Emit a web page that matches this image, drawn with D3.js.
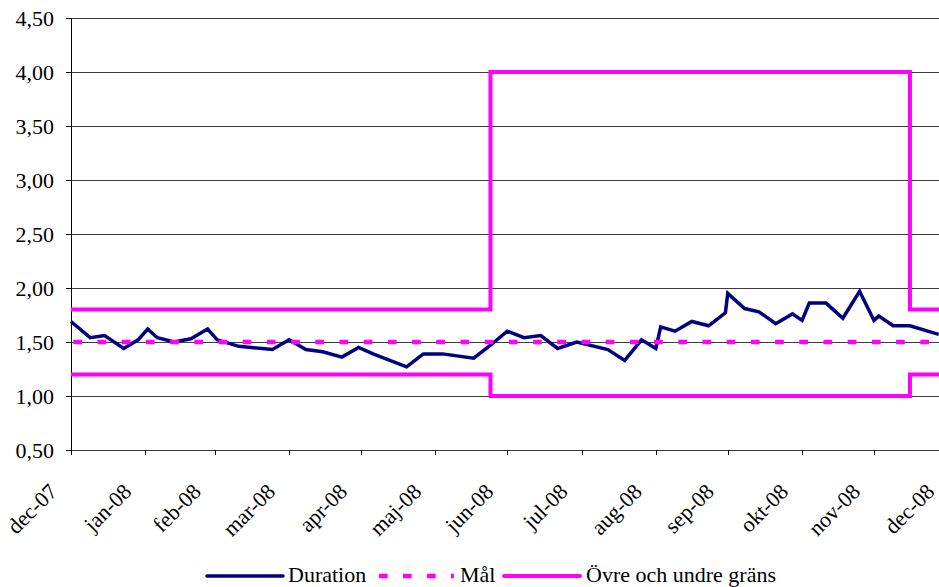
<!DOCTYPE html>
<html>
<head>
<meta charset="utf-8">
<script src="https://cdn.jsdelivr.net/npm/d3@7/dist/d3.min.js"></script>
<style>
  html, body { margin: 0; padding: 0; background: #fff; }
  svg { display: block; }
  svg text { font-family: "Liberation Serif", Tinos, "Times New Roman", Times, "DejaVu Serif", "Noto Serif", serif; fill: #000; }
</style>
</head>
<body>
<svg id="chart" width="939" height="587"></svg>
<script>
// ---- data ----
const durationDates = [
  "2007-12-31","2008-01-08","2008-01-14","2008-01-22","2008-01-28","2008-02-01","2008-02-05",
  "2008-02-12","2008-02-19","2008-02-26","2008-03-01","2008-03-10","2008-03-24","2008-03-31",
  "2008-04-07","2008-04-14","2008-04-22","2008-04-29","2008-05-05","2008-05-19","2008-05-26",
  "2008-06-03","2008-06-16","2008-06-23","2008-06-30","2008-07-07","2008-07-14","2008-07-21",
  "2008-07-29","2008-08-11","2008-08-18","2008-08-25","2008-08-31","2008-09-02","2008-09-08",
  "2008-09-15","2008-09-22","2008-09-29","2008-09-30","2008-10-07","2008-10-13","2008-10-20",
  "2008-10-27","2008-10-31","2008-11-03","2008-11-10","2008-11-17","2008-11-24","2008-11-30",
  "2008-12-02","2008-12-08","2008-12-15","2008-12-27"
];
const durationValues = [
  1.69,1.54,1.56,1.44,1.52,1.62,1.54,
  1.50,1.53,1.62,1.52,1.46,1.43,1.52,
  1.43,1.41,1.36,1.45,1.39,1.27,1.39,
  1.39,1.35,1.47,1.60,1.54,1.56,1.44,
  1.50,1.43,1.33,1.52,1.44,1.64,1.60,
  1.69,1.65,1.77,1.95,1.81,1.78,1.67,
  1.76,1.70,1.86,1.86,1.72,1.97,1.70,
  1.74,1.65,1.65,1.57
];
const malDates = ["2007-12-31","2008-12-31"];
const malValues = [1.5, 1.5];
const upperDates = ["2007-12-31","2008-06-23","2008-06-23","2008-12-15","2008-12-15","2008-12-31"];
const upperValues = [1.8, 1.8, 4.0, 4.0, 1.8, 1.8];
const lowerDates = ["2007-12-31","2008-06-23","2008-06-23","2008-12-15","2008-12-15","2008-12-31"];
const lowerValues = [1.2, 1.2, 1.0, 1.0, 1.2, 1.2];
const monthTickDates = ["2007-12-31","2008-01-31","2008-02-29","2008-03-31","2008-04-30","2008-05-31",
  "2008-06-30","2008-07-31","2008-08-31","2008-09-30","2008-10-31","2008-11-30","2008-12-31"];
const monthTickLabels = ["dec-07","jan-08","feb-08","mar-08","apr-08","maj-08","jun-08",
  "jul-08","aug-08","sep-08","okt-08","nov-08","dec-08"];
const yTickValues = [0.5,1.0,1.5,2.0,2.5,3.0,3.5,4.0,4.5];
const legendLabels = ["Duration","Mål","Övre och undre gräns"];

// ---- setup ----
const FONT = '"Liberation Serif", Tinos, "Times New Roman", Times, "DejaVu Serif", "Noto Serif", serif';
const parse = d3.utcParse("%Y-%m-%d");
const svg = d3.select("#chart");
const mLeft = 71, mTop = 18, mBottom = 450, mRight = 948.3;
const x = d3.scaleUtc().domain([parse("2007-12-31"), parse("2008-12-31")]).range([mLeft, mRight]);
const y = d3.scaleLinear().domain([0.5, 4.5]).range([mBottom, mTop]);
const sv = d3.formatLocale({decimal: ",", thousands: " ", grouping: [3], currency: ["", " kr"]});
const fmt = sv.format(".2f");

const zip = (ds, vs) => ds.map((d, i) => ({date: parse(d), value: vs[i]}));
const line = d3.line().x(d => x(d.date)).y(d => y(d.value));

// gridlines
svg.append("g").selectAll("line").data(yTickValues.filter(v => v > 0.5)).join("line")
  .attr("x1", mLeft).attr("x2", 939).attr("y1", d => y(d)).attr("y2", d => y(d))
  .attr("stroke", "#3c3c3c").attr("stroke-width", 1).attr("shape-rendering", "crispEdges");

// y axis
const yAxis = d3.axisLeft(y).tickValues(yTickValues).tickSize(5).tickFormat(fmt);
const gy = svg.append("g").attr("transform", `translate(${mLeft},0)`).call(yAxis)
  .attr("font-family", FONT).attr("font-size", 22);
gy.select(".domain").attr("stroke", "#000").attr("shape-rendering", "crispEdges");
gy.selectAll(".tick line").attr("stroke", "#000").attr("shape-rendering", "crispEdges");
gy.selectAll(".tick text").attr("x", -17).attr("dy", "0.34em").attr("fill", "#000");

// x axis
const tickDates = monthTickDates.map(parse);
const xAxis = d3.axisBottom(x).tickValues(tickDates).tickSize(5).tickFormat((d, i) => monthTickLabels[i]);
const gx = svg.append("g").attr("transform", `translate(0,${mBottom})`).call(xAxis)
  .attr("font-family", FONT).attr("font-size", 22);
gx.select(".domain").attr("stroke", "#3c3c3c").attr("shape-rendering", "crispEdges");
gx.selectAll(".tick line").attr("stroke", "#000").attr("shape-rendering", "crispEdges");
gx.selectAll(".tick text").attr("fill", "#000")
  .attr("text-anchor", "end").attr("y", 0).attr("dy", 0)
  .attr("transform", "translate(-13,43) rotate(-45)");

// Duration
svg.append("path").datum(zip(durationDates, durationValues)).attr("d", line)
  .attr("fill", "none").attr("stroke", "#000080").attr("stroke-width", 3.5).attr("stroke-linejoin", "miter");

// Mål
svg.append("path").datum(zip(malDates, malValues)).attr("d", line)
  .attr("fill", "none").attr("stroke", "#ff00ff").attr("stroke-width", 4.3)
  .attr("stroke-dasharray", "8.7 15.5").attr("stroke-dashoffset", -2.3);

// limits
[zip(upperDates, upperValues), zip(lowerDates, lowerValues)].forEach(dat => {
  svg.append("path").datum(dat).attr("d", line)
    .attr("fill", "none").attr("stroke", "#ff00ff").attr("stroke-width", 4).attr("stroke-linejoin", "miter");
});

// legend
const lg = svg.append("g").attr("font-family", FONT).attr("font-size", 22);
const ly = 576;
lg.append("line").attr("x1", 207).attr("x2", 283).attr("y1", ly).attr("y2", ly)
  .attr("stroke", "#000080").attr("stroke-width", 3.5).attr("stroke-linecap", "round");
lg.append("text").attr("x", 288).attr("y", 582).text(legendLabels[0]);
lg.append("line").attr("x1", 379).attr("x2", 454).attr("y1", ly).attr("y2", ly)
  .attr("stroke", "#ff00ff").attr("stroke-width", 4.3).attr("stroke-dasharray", "8.7 15.3");
lg.append("text").attr("x", 460).attr("y", 582).text(legendLabels[1]);
lg.append("line").attr("x1", 504).attr("x2", 580).attr("y1", ly).attr("y2", ly)
  .attr("stroke", "#ff00ff").attr("stroke-width", 4).attr("stroke-linecap", "round");
lg.append("text").attr("x", 586).attr("y", 582).text(legendLabels[2]);
</script>
</body>
</html>
